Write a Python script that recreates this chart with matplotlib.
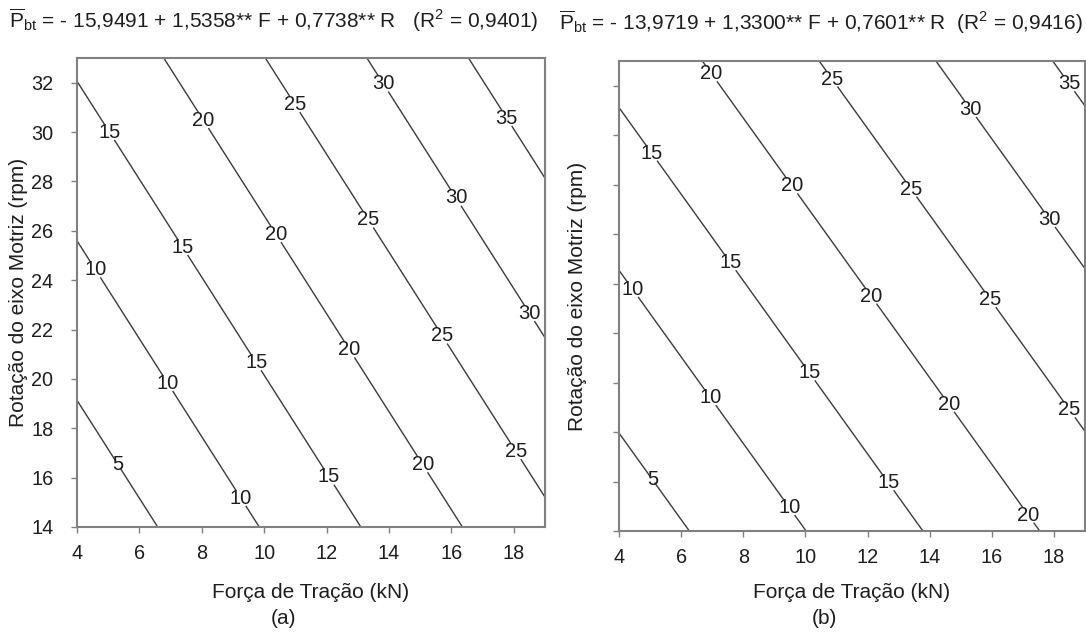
import numpy as np
import matplotlib
matplotlib.use("Agg")
import matplotlib.pyplot as plt

plt.rcParams['font.family'] = ['Liberation Sans', 'DejaVu Sans']
plt.rcParams['mathtext.fontset'] = 'custom'
plt.rcParams['mathtext.rm'] = 'Liberation Sans'
plt.rcParams['mathtext.it'] = 'Liberation Sans:italic'

# Regression coefficients: P = a + b*F + c*R
coef_a = [-15.9491, 1.5358, 0.7738]
coef_b = [-13.9719, 1.3300, 0.7601]
levels = [5, 10, 15, 20, 25, 30, 35]
f_range = [4, 19]
r_range = [14, 33]
x_ticks = [4, 6, 8, 10, 12, 14, 16, 18]
y_ticks = [14, 16, 18, 20, 22, 24, 26, 28, 30, 32]
title_a = r"$\overline{\mathrm{P}}_{\mathrm{bt}}$ = - 15,9491 + 1,5358** F + 0,7738** R   (R$^2$ = 0,9401)"
title_b = r"$\overline{\mathrm{P}}_{\mathrm{bt}}$ = - 13,9719 + 1,3300** F + 0,7601** R  (R$^2$ = 0,9416)"
xlabel = "Força de Tração (kN)"
ylabel = "Rotação do eixo Motriz (rpm)"

W, H = 1086, 632
# axes boxes in pixels (left, top, right, bottom)
box_a = (77, 58, 545, 527)
box_b = (619, 61, 1085, 531)


def px_to_data(box, x, y):
    l, t, r, b = box
    F = f_range[0] + (x - l) / (r - l) * (f_range[1] - f_range[0])
    R = r_range[0] + (b - y) / (b - t) * (r_range[1] - r_range[0])
    return (F, R)


label_px_a = [(108, 133), (204, 120), (294, 105), (383, 84), (507, 118),
              (95, 270), (183, 247), (275, 235), (368, 220), (456, 198), (530, 313),
              (118, 465), (168, 383), (257, 362), (349, 350), (442, 336),
              (241, 498), (329, 477), (422, 465), (515, 452)]
label_px_b = [(710, 75), (831, 80), (970, 110), (1070, 83),
              (652, 153), (792, 186), (910, 190), (1049, 220),
              (632, 290), (730, 263), (870, 297), (990, 300),
              (652, 480), (710, 398), (808, 374), (948, 405), (1068, 411),
              (783, 512), (888, 483), (1030, 514)]
label_pos_a = [px_to_data(box_a, x, y) for x, y in label_px_a]
label_pos_b = [px_to_data(box_b, x, y) for x, y in label_px_b]

fig = plt.figure(figsize=(W / 100, H / 100), dpi=100)


def make_axes(box):
    l, t, r, b = box
    return fig.add_axes([l / W, (H - b) / H, (r - l) / W, (b - t) / H])


ax_a = make_axes(box_a)
ax_b = make_axes(box_b)

F = np.linspace(f_range[0], f_range[1], 400)
R = np.linspace(r_range[0], r_range[1], 400)
FF, RR = np.meshgrid(F, R)

txtc = '#1e1e1e'
configs = [
    (ax_a, box_a, coef_a, label_pos_a, title_a, (274, 20), "(a)", True, -0.126),
    (ax_b, box_b, coef_b, label_pos_b, title_b, (821, 22), "(b)", False, -0.088),
]
for ax, box, coef, lpos, ttl, tpos, tag, showy, ylx in configs:
    Z = coef[0] + coef[1] * FF + coef[2] * RR
    cs = ax.contour(FF, RR, Z, levels=levels, colors='#3c3c3c', linewidths=1.0)
    txts = ax.clabel(cs, levels=levels, fmt='%d', fontsize=14.5, inline=True,
                     inline_spacing=-2, manual=lpos, colors=txtc)
    for t in txts:
        t.set_rotation(0)
    ax.set_xlim(f_range)
    ax.set_ylim(r_range)
    ax.set_xticks(x_ticks)
    ax.set_yticks(y_ticks)
    if not showy:
        ax.set_yticklabels([])
    for sp in ax.spines.values():
        sp.set_color('#808080')
        sp.set_linewidth(1.5)
    ax.tick_params(axis='both', direction='out', length=4, width=1, color='#808080',
                   labelsize=14.3, labelcolor=txtc)
    ax.tick_params(axis='x', pad=8)
    ax.tick_params(axis='y', pad=13)
    l, t, r, b = box
    ax.set_xlabel(xlabel, fontsize=15, color=txtc, va='center')
    ax.xaxis.set_label_coords(0.5, -(592 - b) / (b - t))
    ax.set_ylabel(ylabel, fontsize=15, color=txtc, va='center')
    ax.yaxis.set_label_coords(ylx, 0.5)
    fig.text(tpos[0] / W, 1 - tpos[1] / H, ttl, ha='center', va='center', fontsize=15, color=txtc)
    fig.text(((l + r) / 2 - 28) / W, 1 - 619 / H, tag, ha='center', va='center', fontsize=15,
             color=txtc)

fig.savefig("out.png", dpi=100)
